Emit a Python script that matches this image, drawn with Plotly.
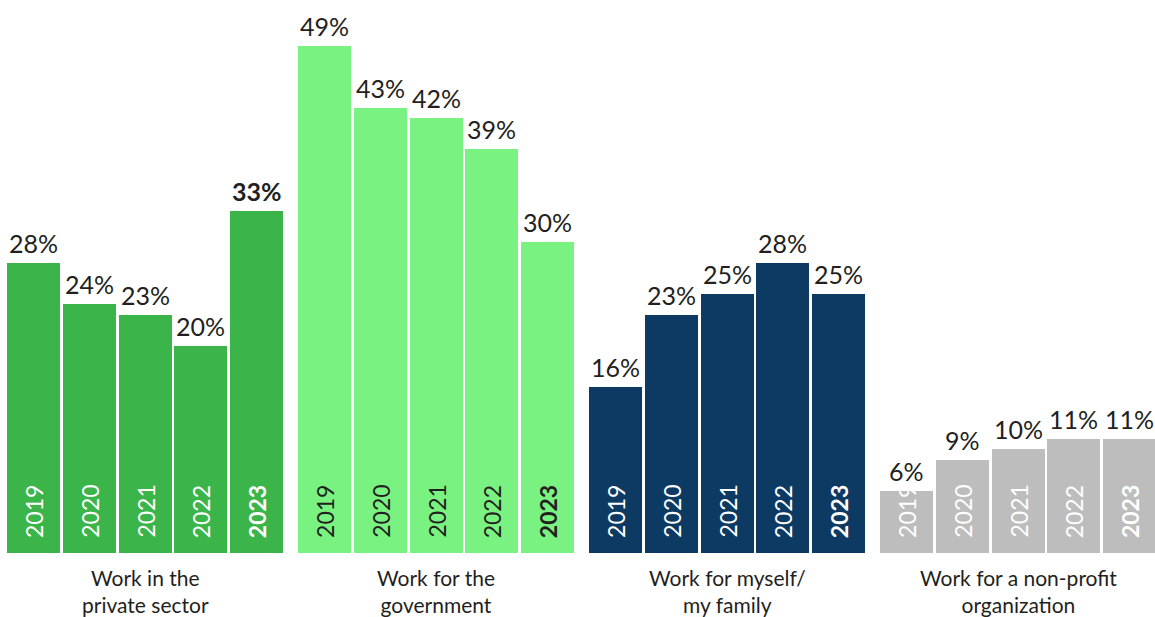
import plotly.graph_objects as go

categories = ["Work in the<br>private sector", "Work for the<br>government",
              "Work for myself/<br>my family", "Work for a non-profit<br>organization"]
years = ["2019", "2020", "2021", "2022", "2023"]
private_sector = [28, 24, 23, 20, 33]
government = [49, 43, 42, 39, 30]
myself_family = [16, 23, 25, 28, 25]
non_profit = [6, 9, 10, 11, 11]

series = [private_sector, government, myself_family, non_profit]
bar_colors = ["#3bb54a", "#79f281", "#0d3a63", "#bdbdbd"]
year_colors = ["#ffffff", "#231f20", "#ffffff", "#ffffff"]
TEXT = "#231f20"
FONT = "Lato, 'Open Sans', sans-serif"
GROUP_PITCH = 5.215

fig = go.Figure()
annotations = []
for g, vals in enumerate(series):
    xs = [g * GROUP_PITCH + j for j in range(len(years))]
    fig.add_trace(go.Bar(
        x=xs, y=vals, width=0.95,
        marker=dict(color=bar_colors[g], line=dict(width=0)),
        hoverinfo="skip", showlegend=False,
    ))
    for j, v in enumerate(vals):
        t = f"{v}%"
        if g == 0 and j == len(years) - 1:
            t = f"<b>{t}</b>"
        annotations.append(dict(
            x=xs[j], y=v, xref="x", yref="y", text=t, showarrow=False,
            xanchor="center", yanchor="bottom", yshift=3,
            font=dict(family=FONT, size=25, color=TEXT),
        ))
    for j, y in enumerate(years):
        lab = f"<b>{y}</b>" if j == len(years) - 1 else y
        annotations.append(dict(
            x=xs[j], y=0, xref="x", yref="y", text=lab, showarrow=False,
            textangle=-90, xanchor="center", yanchor="bottom", yshift=13,
            font=dict(family=FONT, size=23, color=year_colors[g]),
        ))

for g, cat in enumerate(categories):
    annotations.append(dict(
        x=g * GROUP_PITCH + 2, y=0, xref="x", yref="paper", text=cat,
        showarrow=False, xanchor="center", yanchor="top", yshift=-10,
        font=dict(family=FONT, size=21, color=TEXT),
    ))

fig.update_layout(
    width=1155, height=617,
    margin=dict(l=0, r=0, t=0, b=64, pad=0),
    paper_bgcolor="white", plot_bgcolor="white",
    bargap=0,
    xaxis=dict(range=[-0.6, 20.1], showticklabels=False,
               showgrid=False, zeroline=False, showline=False, ticks="",
               fixedrange=True),
    yaxis=dict(range=[0, 53.4], visible=False, fixedrange=True),
    annotations=annotations,
)

fig.write_html("out.html", config={"displayModeBar": False},
               post_script="document.body.style.margin='0';document.body.style.padding='0';")
